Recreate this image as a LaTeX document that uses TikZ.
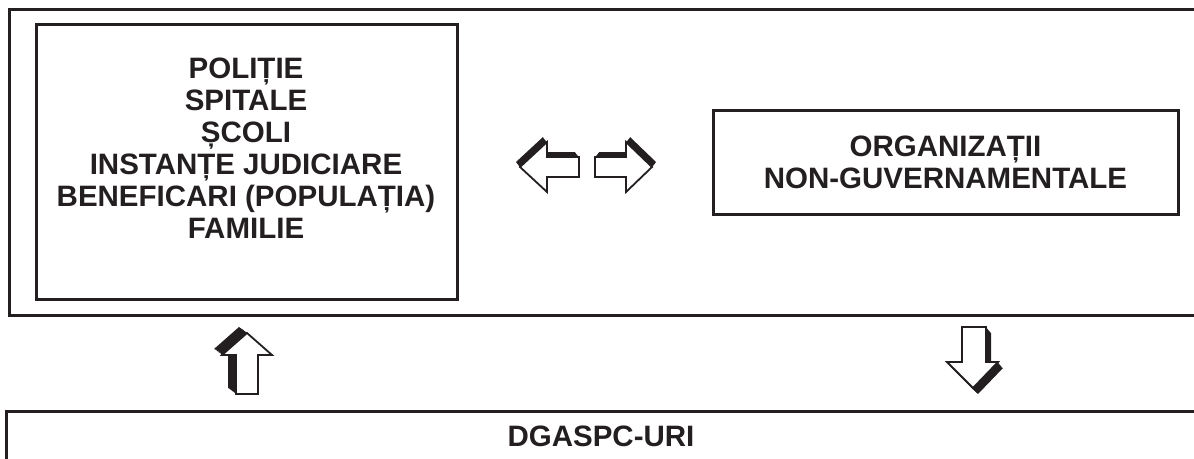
\documentclass[tikz,border=0pt]{standalone}
\usepackage{fontspec}
\setmainfont{Liberation Sans}
\definecolor{ink}{HTML}{231F20}
\tikzset{
  frame/.style={draw=ink, line width=3pt},
  txt/.style={text=ink, font=\bfseries\fontsize{29.5}{32}\selectfont, align=center, inner sep=0pt},
  arrowbody/.style={draw=ink, fill=white, line width=1.8pt, line join=miter},
  arrowshade/.style={fill=ink},
}
\begin{document}
\begin{tikzpicture}[x=1pt, y=-1pt]
\useasboundingbox (0,0) rectangle (1194,458);
% outer frames, open to the right
\draw[frame] (1200,9) -- (9,9) -- (9,315) -- (1200,315);
\draw[frame] (1200,411) -- (6,411) -- (6,470);
% boxes
\node[frame, minimum width=421pt, minimum height=275pt] (inst) at (246.5,161.5) {};
\node[txt] (instText) at (246,148) {POLIȚIE\\SPITALE\\ȘCOLI\\INSTANȚE JUDICIARE\\BENEFICARI (POPULAȚIA)\\FAMILIE};
\node[frame, txt, minimum width=465pt, minimum height=104pt] (ong) at (945.5,162) {ORGANIZAȚII\\NON-GUVERNAMENTALE};
\node[txt] (dgaspc) at (601,436) {DGASPC-URI};
% left arrow
\foreach \s in {0.1,0.2,...,1}
  \fill[arrowshade, shift={(-4*\s,-5*\s)}] (520,167) -- (547,142) -- (547,157) -- (579,157) -- (579,177) -- (547,177) -- (547,192) -- cycle;
\draw[arrowbody] (520,167) -- (547,142) -- (547,157) -- (579,157) -- (579,177) -- (547,177) -- (547,192) -- cycle;
% right arrow
\foreach \s in {0.1,0.2,...,1}
  \fill[arrowshade, shift={(4*\s,-5*\s)}] (652,167) -- (626,142) -- (626,157) -- (595,157) -- (595,177) -- (626,177) -- (626,192) -- cycle;
\draw[arrowbody] (652,167) -- (626,142) -- (626,157) -- (595,157) -- (595,177) -- (626,177) -- (626,192) -- cycle;
% up arrow
\foreach \s in {0.1,0.2,...,1}
  \fill[arrowshade, shift={(-8*\s,-6*\s)}] (247,333) -- (272,355) -- (258,355) -- (258,394) -- (236,394) -- (236,355) -- (222,355) -- cycle;
\draw[arrowbody] (247,333) -- (272,355) -- (258,355) -- (258,394) -- (236,394) -- (236,355) -- (222,355) -- cycle;
% down arrow
\foreach \s in {0.1,0.2,...,1}
  \fill[arrowshade, shift={(5*\s,6*\s)}] (973,388) -- (998,362) -- (986,362) -- (986,327) -- (962,327) -- (962,362) -- (947,362) -- cycle;
\draw[arrowbody] (973,388) -- (998,362) -- (986,362) -- (986,327) -- (962,327) -- (962,362) -- (947,362) -- cycle;
\end{tikzpicture}
\end{document}
